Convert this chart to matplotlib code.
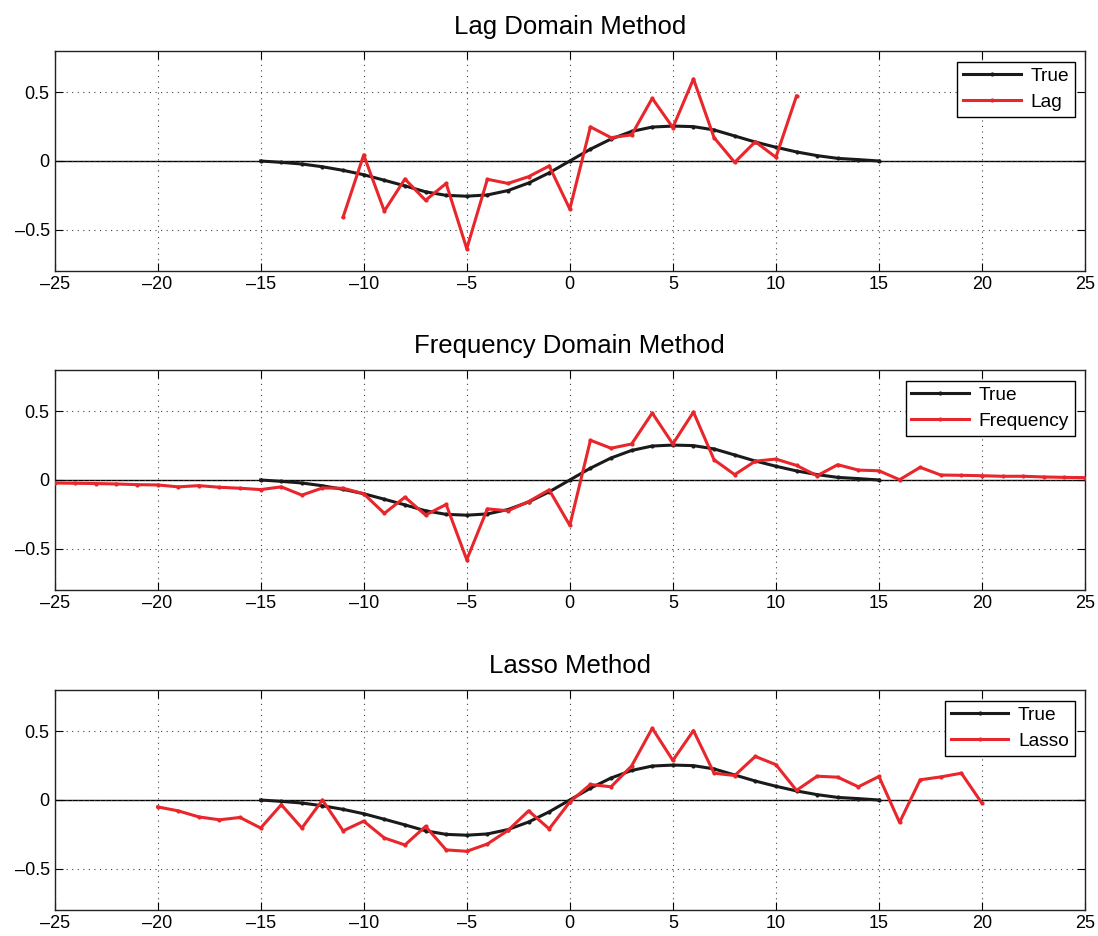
import matplotlib
matplotlib.use("Agg")
import matplotlib.pyplot as plt
import numpy as np

plt.rcParams['font.family'] = ['Liberation Sans', 'DejaVu Sans']

# true impulse response, lags -15..15
true_x = list(range(-15, 16))
true_y = [0.0, -0.01, -0.022, -0.042, -0.068, -0.10, -0.14, -0.181, -0.224, -0.25,
          -0.256, -0.247, -0.215, -0.16, -0.086, 0.0, 0.086, 0.16, 0.215, 0.247,
          0.254, 0.25, 0.226, 0.182, 0.138, 0.10, 0.066, 0.039, 0.019, 0.01, 0.0]

# lag domain estimate, lags -11..11
lag_x = list(range(-11, 12))
lag_y = [-0.408, 0.044, -0.364, -0.131, -0.286, -0.163, -0.638, -0.133, -0.163, -0.114,
         -0.036, -0.35, 0.248, 0.17, 0.19, 0.456, 0.243, 0.597, 0.17, -0.01,
         0.14, 0.027, 0.473]

# frequency domain estimate, lags -25..25
freq_x = list(range(-25, 26))
freq_y = [-0.022, -0.024, -0.026, -0.029, -0.034, -0.036, -0.05, -0.041, -0.053, -0.06,
          -0.07, -0.05, -0.11, -0.058, -0.06, -0.10, -0.243, -0.125, -0.255, -0.178,
          -0.58, -0.21, -0.224, -0.157, -0.072, -0.33, 0.289, 0.231, 0.262, 0.487,
          0.262, 0.494, 0.147, 0.039, 0.137, 0.152, 0.106, 0.031, 0.111, 0.072,
          0.067, 0.002, 0.092, 0.036, 0.034, 0.031, 0.027, 0.027, 0.022, 0.019,
          0.017]

# lasso estimate, lags -20..20
lasso_x = list(range(-20, 21))
lasso_y = [-0.05, -0.079, -0.123, -0.144, -0.127, -0.204, -0.034, -0.204, 0.0, -0.224,
           -0.154, -0.276, -0.327, -0.192, -0.363, -0.373, -0.32, -0.221, -0.079, -0.21,
           -0.014, 0.113, 0.096, 0.248, 0.522, 0.288, 0.505, 0.195, 0.178, 0.317,
           0.257, 0.07, 0.173, 0.166, 0.096, 0.171, -0.163, 0.147, 0.168, 0.195,
           -0.024]

panels = [
    ("Lag Domain Method", "Lag", lag_x, lag_y),
    ("Frequency Domain Method", "Frequency", freq_x, freq_y),
    ("Lasso Method", "Lasso", lasso_x, lasso_y),
]

xticks = list(range(-25, 30, 5))
xticklabels = [str(t).replace('-', '\u2013') for t in xticks]
yticks = [-0.5, 0, 0.5]
yticklabels = ['\u20130.5', '0', '0.5']

red = '#e8262b'

fig = plt.figure(figsize=(10.98, 9.36), dpi=100)
bottoms = [0.7105, 0.3697, 0.0278]

for (title, name, xs, ys), b in zip(panels, bottoms):
    ax = fig.add_axes([0.0497, b, 0.9385, 0.235])
    ax.axhline(0, color='black', lw=1.0, zorder=1)
    ax.plot(true_x, true_y, color='#1a1a1a', lw=2.2, marker='.', ms=4, label='True', zorder=3)
    ax.plot(xs, ys, color=red, lw=2.2, marker='.', ms=4, label=name, zorder=4)
    ax.set_xlim(-25, 25)
    ax.set_ylim(-0.8, 0.8)
    ax.set_xticks(xticks)
    ax.set_xticklabels(xticklabels)
    ax.set_yticks(yticks)
    ax.set_yticklabels(yticklabels)
    ax.grid(True, linestyle=(0, (1, 4)), color='#444444', lw=0.8)
    ax.tick_params(direction='in', top=True, right=True, labelsize=13, length=6, width=0.8)
    for sp in ax.spines.values():
        sp.set_linewidth(1.0)
        sp.set_color('#222222')
    ax.set_title(title, fontsize=18.5, pad=12)
    leg = ax.legend(loc='upper right', fontsize=13.8, fancybox=False, framealpha=1,
                    edgecolor='black', handlelength=3.0, borderaxespad=0.55,
                    labelspacing=0.45, borderpad=0.3, handletextpad=0.5)
    leg.get_frame().set_linewidth(1.0)

fig.savefig('out.png', dpi=100)
